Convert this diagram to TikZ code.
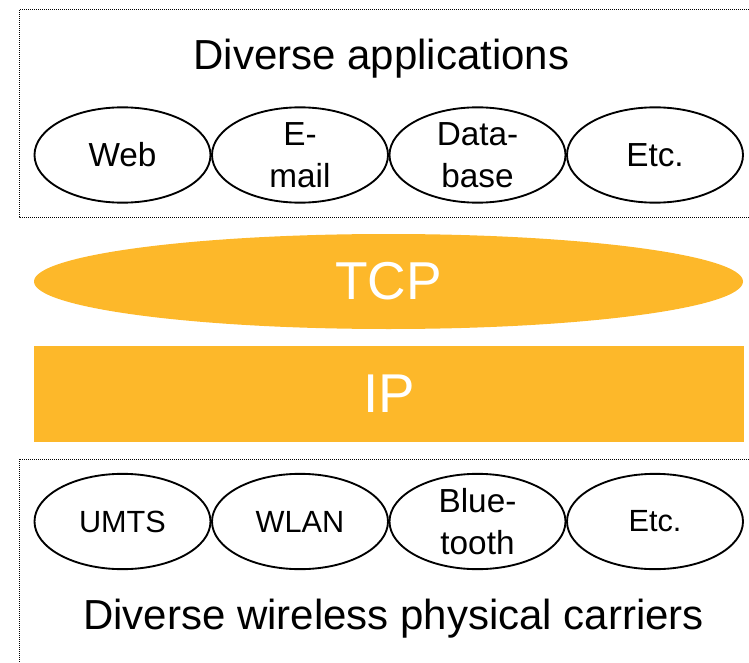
\documentclass[tikz,border=0pt]{standalone}
\usepackage{fontspec}
\setmainfont{Liberation Sans}
\usetikzlibrary{shapes.geometric}
\definecolor{layerorange}{RGB}{253,184,42}
\begin{document}
\begin{tikzpicture}[x=0.75pt,y=-0.75pt,
  app/.style={ellipse,draw=black,line width=1.4pt,minimum width=132pt,
    minimum height=71.5pt,inner sep=0pt,align=center,
    font=\fontsize{25}{31.5}\selectfont},
  smalltext/.style={font=\fontsize{23}{29}\selectfont},
  title/.style={font=\fontsize{31.5}{38}\selectfont,anchor=base},
  groupbox/.style={line width=0.75pt,dash pattern=on 0.75pt off 0.75pt},
  layer/.style={fill=layerorange,draw=none,text=white,inner sep=0pt}]
\useasboundingbox (0,0) rectangle (749,663);

% application group
\draw[groupbox] (749,10) -- (19,10) -- (19,217) -- (749,217);
\node[title] (apptitle) at (381.5,70) {Diverse applications};
\node[app] (web)   at (122.5,155) {Web};
\node[app] (email) at (300,155)   {E-\\mail};
\node[app] (db)    at (477.5,155) {Data-\\base};
\node[app] (etc1)  at (655,155)   {Etc.};

% transport and network layers
\node[layer,ellipse,minimum width=531.75pt,minimum height=71.25pt,
  font=\fontsize{40}{48}\selectfont] (tcp) at (388.5,281.5) {TCP};
\node[layer,rectangle,minimum width=532.5pt,minimum height=72pt,
  font=\fontsize{41}{49}\selectfont] (ip) at (389,394) {IP};

% carrier group
\draw[groupbox] (749,459) -- (19,459) -- (19,663);
\node[app,smalltext] (umts) at (122.5,521.5) {UMTS};
\node[app,smalltext] (wlan) at (300,521.5)   {WLAN};
\node[app] (bt)   at (477.5,521.5) {Blue-\\tooth};
\node[app,smalltext] (etc2) at (655,521.5)   {Etc.};
\node[title] (cartitle) at (393.5,629) {Diverse wireless physical carriers};
\end{tikzpicture}
\end{document}
